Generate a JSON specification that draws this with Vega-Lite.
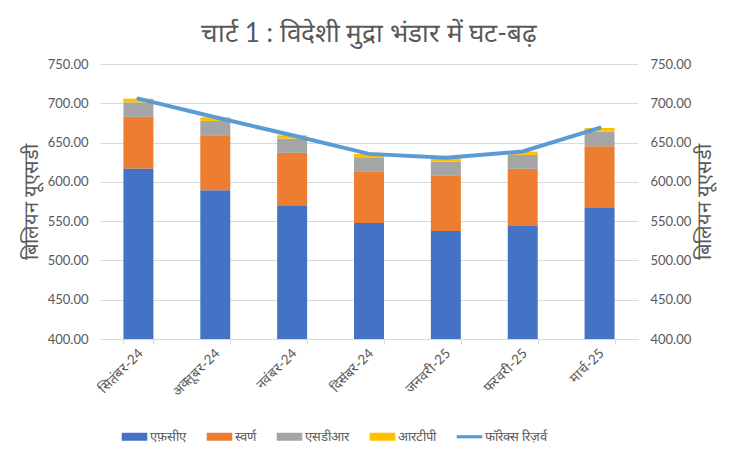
{
  "$schema": "https://vega.github.io/schema/vega-lite/v6.json",
  "autosize": {"type": "none"},
  "width": 538,
  "height": 275,
  "padding": {"left": 100, "top": 64, "right": 101, "bottom": 126},
  "background": "white",
  "title": {
    "text": "चार्ट 1 : विदेशी मुद्रा भंडार में घट-बढ़",
    "fontSize": 26,
    "fontWeight": "normal",
    "color": "#595959",
    "anchor": "middle",
    "frame": "group",
    "offset": 11
  },
  "config": {
    "view": {"stroke": null},
    "font": "Lato",
    "axis": {"labelColor": "#595959", "titleColor": "#595959", "labelFontSize": 13, "gridColor": "#D9D9D9", "domainColor": "#D9D9D9", "tickColor": "#D9D9D9"}
  },
  "datasets": {
    "bars": [
      {"month": "सितंबर-24", "type": "एफ़सीए", "value": 617.0},
      {"month": "सितंबर-24", "type": "स्वर्ण", "value": 65.7},
      {"month": "सितंबर-24", "type": "एसडीआर", "value": 18.5},
      {"month": "सितंबर-24", "type": "आरटीपी", "value": 4.7},
      {"month": "अक्तूबर-24", "type": "एफ़सीए", "value": 589.4},
      {"month": "अक्तूबर-24", "type": "स्वर्ण", "value": 69.9},
      {"month": "अक्तूबर-24", "type": "एसडीआर", "value": 18.3},
      {"month": "अक्तूबर-24", "type": "आरटीपी", "value": 4.6},
      {"month": "नवंबर-24", "type": "एफ़सीए", "value": 570.3},
      {"month": "नवंबर-24", "type": "स्वर्ण", "value": 66.6},
      {"month": "नवंबर-24", "type": "एसडीआर", "value": 18.2},
      {"month": "नवंबर-24", "type": "आरटीपी", "value": 4.2},
      {"month": "दिसंबर-24", "type": "एफ़सीए", "value": 547.5},
      {"month": "दिसंबर-24", "type": "स्वर्ण", "value": 66.0},
      {"month": "दिसंबर-24", "type": "एसडीआर", "value": 17.8},
      {"month": "दिसंबर-24", "type": "आरटीपी", "value": 4.3},
      {"month": "जनवरी-25", "type": "एफ़सीए", "value": 537.3},
      {"month": "जनवरी-25", "type": "स्वर्ण", "value": 71.2},
      {"month": "जनवरी-25", "type": "एसडीआर", "value": 17.4},
      {"month": "जनवरी-25", "type": "आरटीपी", "value": 4.7},
      {"month": "फरवरी-25", "type": "एफ़सीए", "value": 543.7},
      {"month": "फरवरी-25", "type": "स्वर्ण", "value": 72.9},
      {"month": "फरवरी-25", "type": "एसडीआर", "value": 17.8},
      {"month": "फरवरी-25", "type": "आरटीपी", "value": 4.2},
      {"month": "मार्च-25", "type": "एफ़सीए", "value": 567.8},
      {"month": "मार्च-25", "type": "स्वर्ण", "value": 77.5},
      {"month": "मार्च-25", "type": "एसडीआर", "value": 18.7},
      {"month": "मार्च-25", "type": "आरटीपी", "value": 4.7}
    ],
    "forex": [
      {"month": "सितंबर-24", "total": 705.9},
      {"month": "अक्तूबर-24", "total": 682.2},
      {"month": "नवंबर-24", "total": 659.3},
      {"month": "दिसंबर-24", "total": 635.6},
      {"month": "जनवरी-25", "total": 630.6},
      {"month": "फरवरी-25", "total": 638.6},
      {"month": "मार्च-25", "total": 668.7}
    ]
  },
  "encoding": {
    "x": {
      "field": "month",
      "type": "nominal",
      "sort": ["सितंबर-24", "अक्तूबर-24", "नवंबर-24", "दिसंबर-24", "जनवरी-25", "फरवरी-25", "मार्च-25"],
      "scale": {"paddingInner": 0.61, "paddingOuter": 0.305},
      "axis": {"title": null, "labelAngle": -45, "labelAlign": "right", "labelBaseline": "middle", "labelFontSize": 13.5, "tickBand": "extent", "tickSize": 5, "labelPadding": 7, "labelOffset": 2, "grid": false}
    }
  },
  "layer": [
    {
      "data": {"name": "bars"},
      "transform": [
        {"calculate": "indexof(['एफ़सीए','स्वर्ण','एसडीआर','आरटीपी'], datum.type)", "as": "ord"}
      ],
      "mark": {"type": "bar", "clip": true},
      "encoding": {
        "y": {
          "field": "value", "type": "quantitative", "stack": "zero",
          "scale": {"domain": [400, 750], "zero": false, "nice": false},
          "axis": {"title": "बिलियन यूएसडी", "titleFontSize": 20, "titleFontWeight": "normal", "format": ".2f", "values": [400, 450, 500, 550, 600, 650, 700, 750], "domain": false, "ticks": false, "labelPadding": 12, "titlePadding": 6}
        },
        "order": {"field": "ord", "type": "quantitative", "sort": "ascending"},
        "color": {
          "field": "type", "type": "nominal",
          "scale": {"domain": ["एफ़सीए", "स्वर्ण", "एसडीआर", "आरटीपी", "फॉरेक्स रिज़र्व"], "range": ["#4472C4", "#ED7D31", "#A5A5A5", "#FFC000", "#5B9BD5"]},
          "legend": {
            "orient": "none", "legendX": 28, "legendY": 366, "direction": "horizontal", "title": null,
            "labelFontSize": 13, "labelColor": "#595959",
            "symbolType": "M-3.2,-1H3.2V1H-3.2Z", "symbolSize": 64,
            "labelOffset": 9, "columnPadding": 20,
            "encode": {"symbols": {"update": {
              "shape": {"signal": "datum.value === 'फॉरेक्स रिज़र्व' ? 'M-3.2,-0.4H3.2V0.4H-3.2Z' : 'M-3.2,-1H3.2V1H-3.2Z'"},
              "size": {"value": 64},
              "fill": {"scale": "color", "field": "value"},
              "fillOpacity": {"value": 1},
              "opacity": {"value": 1},
              "strokeWidth": {"value": 0}
            }}}
          }
        }
      }
    },
    {
      "data": {"name": "forex"},
      "mark": {"type": "line", "strokeWidth": 4, "strokeCap": "round", "clip": true},
      "encoding": {
        "y": {
          "field": "total", "type": "quantitative",
          "scale": {"domain": [400, 750], "zero": false, "nice": false},
          "axis": {"orient": "right", "title": "बिलियन यूएसडी", "titleAngle": 270, "titleFontSize": 20, "titleFontWeight": "normal", "format": ".2f", "values": [400, 450, 500, 550, 600, 650, 700, 750], "domain": false, "ticks": false, "grid": false, "labelPadding": 12, "titlePadding": 24}
        },
        "color": {"datum": "फॉरेक्स रिज़र्व", "type": "nominal", "scale": {"domain": ["एफ़सीए", "स्वर्ण", "एसडीआर", "आरटीपी", "फॉरेक्स रिज़र्व"], "range": ["#4472C4", "#ED7D31", "#A5A5A5", "#FFC000", "#5B9BD5"]}}
      }
    }
  ],
  "resolve": {"scale": {"y": "independent"}}
}
